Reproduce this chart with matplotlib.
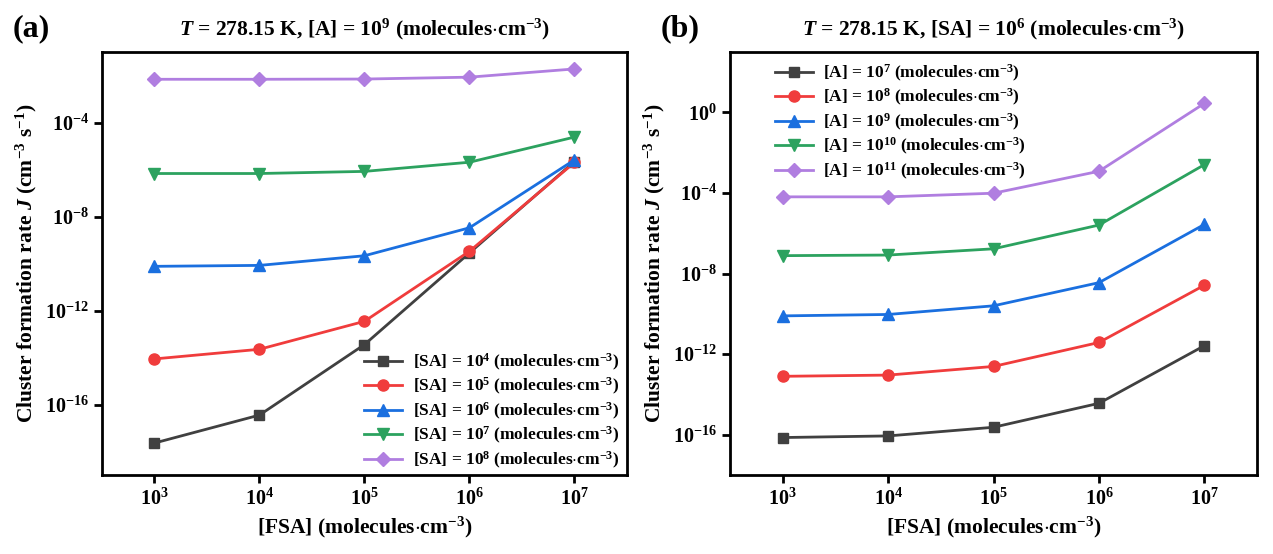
import numpy as np
import matplotlib
matplotlib.use("Agg")
import matplotlib.pyplot as plt
from matplotlib.ticker import LogLocator, NullLocator

plt.rcParams['font.family'] = 'Liberation Serif'
plt.rcParams['font.weight'] = 'bold'
plt.rcParams['mathtext.fontset'] = 'custom'
plt.rcParams['mathtext.rm'] = 'Liberation Serif:bold'
plt.rcParams['mathtext.bf'] = 'Liberation Serif:bold'
plt.rcParams['mathtext.it'] = 'Liberation Serif:italic:bold'

# eje x comun: [FSA]
fsa = [1e3, 1e4, 1e5, 1e6, 1e7]

# (a) T = 278.15 K, [A] = 1e9, log10(J) para cada [SA]
sa_exp = [4, 5, 6, 7, 8]
logj_a = [
    [-17.64, -16.45, -13.45, -9.55, -5.66],
    [-14.06, -13.65, -12.46, -9.48, -5.70],
    [-10.12, -10.08, -9.67, -8.48, -5.59],
    [-6.17, -6.17, -6.08, -5.69, -4.62],
    [-2.16, -2.16, -2.15, -2.07, -1.72],
]

# (b) T = 278.15 K, [SA] = 1e6, log10(J) para cada [A]
a_exp = [7, 8, 9, 10, 11]
logj_b = [
    [-16.14, -16.06, -15.63, -14.44, -11.58],
    [-13.10, -13.04, -12.61, -11.42, -8.58],
    [-10.10, -10.03, -9.60, -8.45, -5.56],
    [-7.11, -7.08, -6.77, -5.59, -2.59],
    [-4.19, -4.19, -4.01, -2.92, 0.45],
]

colors = ['#404040', '#f03c3c', '#1a6fdf', '#2ca25f', '#b07ee0']
markers = ['s', 'o', '^', 'v', 'D']
msizes = [7, 8, 8, 8, 7]

fig = plt.figure(figsize=(12.73, 5.54), dpi=100)
ax1 = fig.add_axes([0.0801, 0.1426, 0.4124, 0.7635])
ax2 = fig.add_axes([0.5735, 0.1426, 0.4140, 0.7635])

for i in range(5):
    ax1.plot(fsa, 10.0 ** np.array(logj_a[i]), color=colors[i], marker=markers[i],
             ms=msizes[i], lw=2,
             label=r'[SA] = 10$^{%d}$ (molecules$\cdot$cm$^{-3}$)' % sa_exp[i])
    ax2.plot(fsa, 10.0 ** np.array(logj_b[i]), color=colors[i], marker=markers[i],
             ms=msizes[i], lw=2,
             label=r'[A] = 10$^{%d}$ (molecules$\cdot$cm$^{-3}$)' % a_exp[i])

for ax in (ax1, ax2):
    ax.set_xscale('log')
    ax.set_yscale('log')
    ax.set_xlim(10 ** 2.5, 10 ** 7.5)
    ax.xaxis.set_major_locator(LogLocator(base=10, numticks=10))
    ax.xaxis.set_minor_locator(NullLocator())
    for s in ax.spines.values():
        s.set_linewidth(2)
    ax.tick_params(axis='both', which='major', direction='out', length=6, width=2,
                   labelsize=14.5)
    ax.set_xlabel(r'[FSA] (molecules$\cdot$cm$^{-3}$)', fontsize=15.5, fontweight='bold')
    ax.set_ylabel(r'Cluster formation rate $J$ (cm$^{-3}$ s$^{-1}$)', fontsize=15.5,
                  fontweight='bold')

ax1.set_ylim(1e-19, 1e-1)
ax1.set_yticks([1e-16, 1e-12, 1e-8, 1e-4])
ax2.set_ylim(1e-18, 1e3)
ax2.set_yticks([1e-16, 1e-12, 1e-8, 1e-4, 1e0])
ax1.yaxis.set_minor_locator(NullLocator())
ax2.yaxis.set_minor_locator(NullLocator())

ax1.set_title(r'$T$ = 278.15 K, [A] = 10$^{9}$ (molecules$\cdot$cm$^{-3}$)',
              fontsize=15.5, fontweight='bold', pad=12)
ax2.set_title(r'$T$ = 278.15 K, [SA] = 10$^{6}$ (molecules$\cdot$cm$^{-3}$)',
              fontsize=15.5, fontweight='bold', pad=12)

ax1.legend(loc='lower right', frameon=False, fontsize=12.5, handlelength=2.2,
           labelspacing=0.2, borderaxespad=0.2, handletextpad=0.6,
           bbox_to_anchor=(1.005, -0.015))
ax2.legend(loc='upper left', frameon=False, fontsize=12.5, handlelength=2.2,
           labelspacing=0.2, borderaxespad=0.2, handletextpad=0.6,
           bbox_to_anchor=(0.065, 1.0))

fig.text(0.010, 0.935, '(a)', fontsize=23, fontweight='bold')
fig.text(0.519, 0.935, '(b)', fontsize=23, fontweight='bold')

fig.savefig('out.png', dpi=100)
